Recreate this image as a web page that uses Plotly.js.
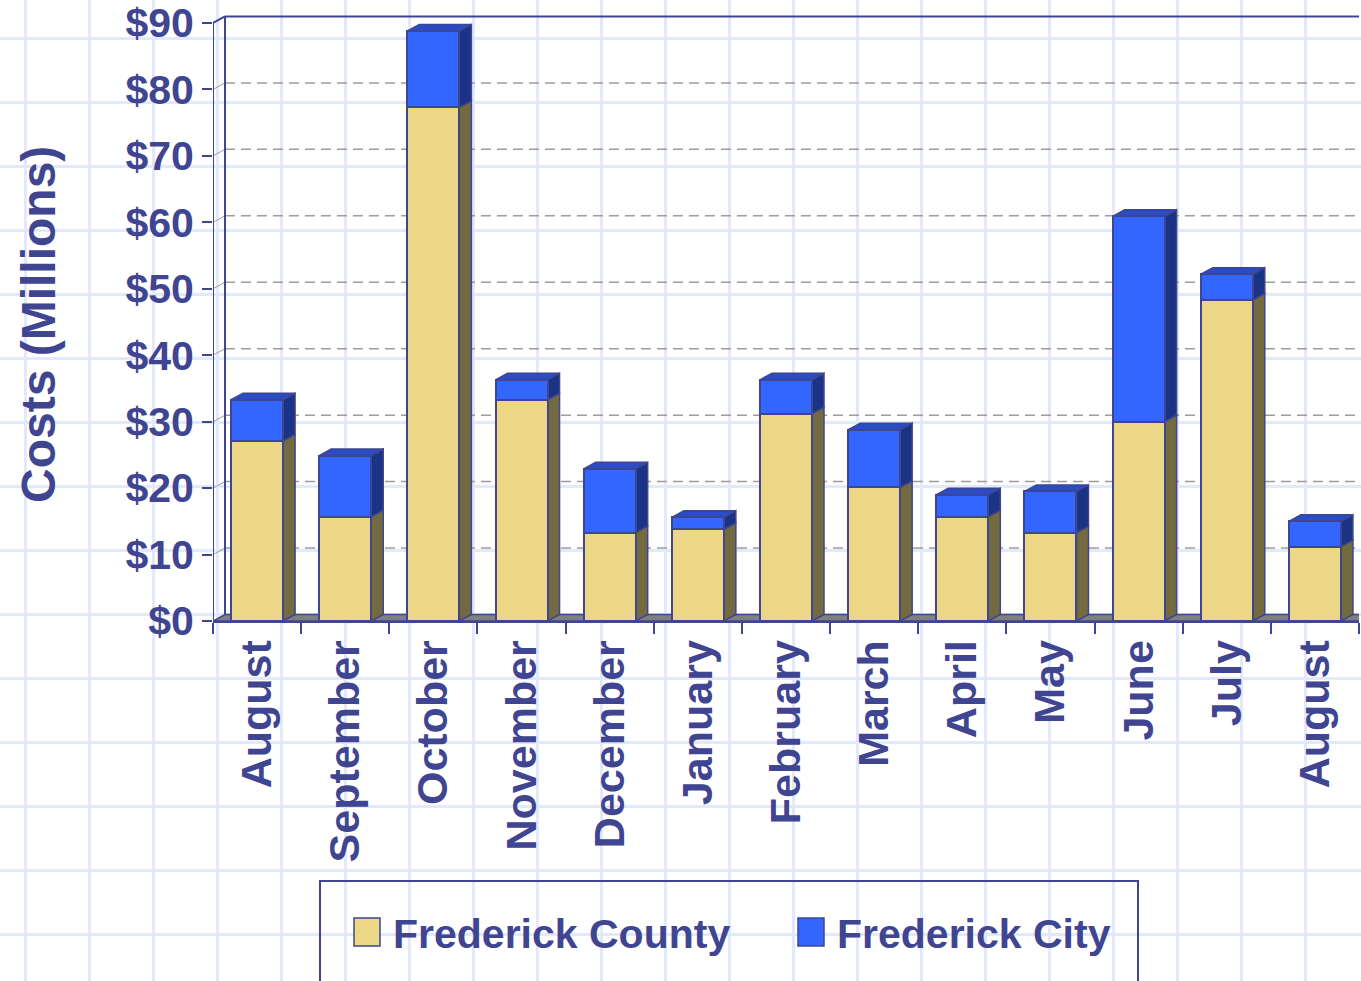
<!DOCTYPE html>
<html>
<head>
<meta charset="utf-8">
<script src="https://cdn.plot.ly/plotly-3.0.1.min.js"></script>
<style>
html,body{margin:0;padding:0;width:1361px;height:981px;overflow:hidden;background-color:#ffffff;
background-image:linear-gradient(to right,#e3e9fc 3px,transparent 3px),linear-gradient(to bottom,#e3e9fc 3px,transparent 3px);
background-size:64px 64px;background-position:24px 37px;}
#chart{width:1361px;height:981px;}
</style>
</head>
<body>
<div id="chart"></div>
<script>
// ---- data ----
const months = ['August','September','October','November','December','January','February','March','April','May','June','July','August'];
const countyCosts = [27.1, 15.7, 77.3, 33.3, 13.3, 13.8, 31.2, 20.1, 15.7, 13.3, 30.0, 48.3, 11.2];
const cityCosts   = [6.2, 9.2, 11.5, 3.0, 9.6, 1.8, 5.1, 8.7, 3.3, 6.2, 30.9, 3.9, 3.8];
const seriesNames = ['Frederick County', 'Frederick City'];
const yTickVals = [0, 10, 20, 30, 40, 50, 60, 70, 80, 90];
const yTickText = ['$0', '$10', '$20', '$30', '$40', '$50', '$60', '$70', '$80', '$90'];
const yAxisTitle = 'Costs (Millions)';

// ---- style ----
const INK = '#3f4591';
const COUNTY_FRONT = '#ebd786', COUNTY_SIDE = '#746a40';
const CITY_FRONT = '#3366ff', CITY_SIDE = '#1b3384', CITY_TOP = '#2a4cc4';
const FONT = '"Liberation Sans", Arial, Helvetica, sans-serif';

const W = 1361, H = 981;
const ML = 213, MR = 2, MT = 13, MB = 360;
const PW = W - ML - MR, PH = H - MT - MB;
const N = months.length;
const X0 = -0.5, X1 = N - 0.5;
const YMAX = 91.5;
const BARW = 0.59;
const pxPerCat = PW / N, pxPerUnit = PH / YMAX;
const DX = 12 / pxPerCat;     // depth offset (right)
const DY = 6.5 / pxPerUnit;   // depth offset (up)

const idx = months.map((_, i) => i);
const boundaries = [];
for (let i = 0; i <= N; i++) boundaries.push(i - 0.5);

const px2x = px => (px - ML) / PW;
const py2y = py => (H - MB - py) / PH;

const shapes = [];
const line = (x0, y0, x1, y1, color, width, dash) => shapes.push({
  type: 'line', xref: 'x', yref: 'y', x0, y0, x1, y1, layer: 'below',
  line: {color, width, dash: dash || 'solid'}
});
const poly = (pts, fill, lw) => shapes.push({
  type: 'path', xref: 'x', yref: 'y', layer: 'below',
  path: 'M' + pts.map(p => p[0] + ',' + p[1]).join('L') + 'Z',
  fillcolor: fill, line: {color: INK, width: lw || 1.5}
});

// back wall gridlines + connectors
yTickVals.forEach(v => {
  if (v > 0 && v < 90) {
    line(X0 + DX, v + DY, X1 + DX, v + DY, '#9c9c9c', 1.5, '10px,6px');
    line(X0, v, X0 + DX, v + DY, '#9c9c9c', 1);
  }
});
const vmax = yTickVals[yTickVals.length - 1];
// back wall edges
line(X0 + DX, DY, X0 + DX, vmax + DY, INK, 2);
line(X0 + DX, vmax + DY, X1 + DX, vmax + DY, INK, 2);
line(X0, vmax, X0 + DX, vmax + DY, INK, 2);
// front y axis line
line(X0, 0, X0, vmax, INK, 2);
// floor
poly([[X0, 0], [X0 + DX, DY], [X1 + DX, DY], [X1, 0]], '#808080', 1.5);

// 3D faces of the bars
idx.forEach(i => {
  const c = countyCosts[i], t = countyCosts[i] + cityCosts[i];
  const xl = i - BARW / 2, xr = i + BARW / 2;
  poly([[xr, 0], [xr + DX, DY], [xr + DX, c + DY], [xr, c]], COUNTY_SIDE);
  poly([[xr, c], [xr + DX, c + DY], [xr + DX, t + DY], [xr, t]], CITY_SIDE);
  poly([[xl, t], [xl + DX, t + DY], [xr + DX, t + DY], [xr, t]], CITY_TOP);
});

// manual legend
shapes.push({type: 'rect', xref: 'paper', yref: 'paper', x0: px2x(320), x1: px2x(1138), y0: py2y(1005), y1: py2y(881),
  line: {color: INK, width: 2}, fillcolor: 'rgba(0,0,0,0)'});
shapes.push({type: 'rect', xref: 'paper', yref: 'paper', x0: px2x(354), x1: px2x(380), y0: py2y(946), y1: py2y(918),
  line: {color: INK, width: 1.5}, fillcolor: COUNTY_FRONT});
shapes.push({type: 'rect', xref: 'paper', yref: 'paper', x0: px2x(798), x1: px2x(824), y0: py2y(946), y1: py2y(918),
  line: {color: INK, width: 1.5}, fillcolor: CITY_FRONT});

const annotations = [
  {xref: 'paper', yref: 'paper', x: px2x(39), y: py2y(325), text: yAxisTitle, textangle: -90, showarrow: false,
   xanchor: 'center', yanchor: 'middle', font: {family: FONT, size: 48, color: INK, weight: 'bold'}},
  {xref: 'paper', yref: 'paper', x: px2x(391), y: py2y(934), text: seriesNames[0], showarrow: false,
   xanchor: 'left', yanchor: 'middle', font: {family: FONT, size: 41, color: INK, weight: 'bold'}},
  {xref: 'paper', yref: 'paper', x: px2x(835), y: py2y(934), text: seriesNames[1], showarrow: false,
   xanchor: 'left', yanchor: 'middle', font: {family: FONT, size: 41, color: INK, weight: 'bold'}}
];

const traces = [
  {type: 'bar', x: idx, y: countyCosts, name: seriesNames[0],
   marker: {color: COUNTY_FRONT, line: {color: INK, width: 2}}, hoverinfo: 'skip'},
  {type: 'bar', x: idx, y: cityCosts, name: seriesNames[1],
   marker: {color: CITY_FRONT, line: {color: INK, width: 2}}, hoverinfo: 'skip'}
];

const layout = {
  width: W, height: H,
  margin: {l: ML, r: MR, t: MT, b: MB, pad: 0},
  paper_bgcolor: 'rgba(0,0,0,0)', plot_bgcolor: 'rgba(0,0,0,0)',
  barmode: 'stack', bargap: 1 - BARW, showlegend: false,
  font: {family: FONT, color: INK},
  xaxis: {
    range: [X0, X1], tickmode: 'array', tickvals: idx, ticktext: months, tickangle: -90,
    ticks: '',
    tickfont: {family: FONT, size: 43, color: INK, weight: 'bold'},
    showline: true, linecolor: INK, linewidth: 2, showgrid: false, zeroline: false,
    minor: {tickmode: 'array', tickvals: boundaries, ticks: 'outside', ticklen: 11, tickwidth: 2, tickcolor: INK, showgrid: false},
    fixedrange: true
  },
  yaxis: {
    range: [0, YMAX], tickmode: 'array', tickvals: yTickVals, ticktext: yTickText,
    ticks: 'outside', ticklen: 10, tickwidth: 2, tickcolor: INK,
    tickfont: {family: FONT, size: 41, color: INK, weight: 'bold'},
    showline: false, showgrid: false, zeroline: false, fixedrange: true
  },
  shapes, annotations
};

Plotly.newPlot('chart', traces, layout, {displayModeBar: false, staticPlot: true});
</script>
</body>
</html>
